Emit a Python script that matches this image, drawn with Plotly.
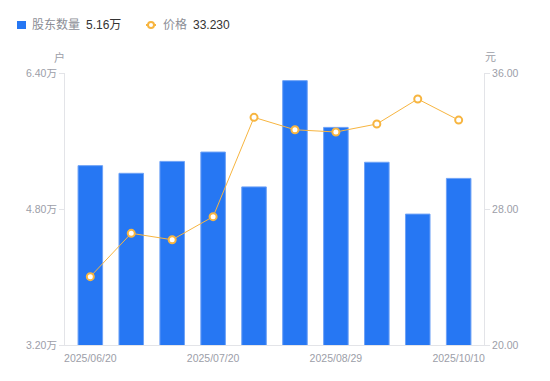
import plotly.graph_objects as go

dates = ["2025/06/20", "2025/06/30", "2025/07/10", "2025/07/20", "2025/07/31",
         "2025/08/15", "2025/08/29", "2025/09/12", "2025/09/26", "2025/10/10"]
holders = [5.31, 5.22, 5.36, 5.47, 5.06, 6.31, 5.76, 5.35, 4.74, 5.16]  # 万户
price = [24.02, 26.57, 26.19, 27.55, 33.39, 32.66, 32.53, 33.00, 34.47, 33.23]  # 元
shown_ticks = ["2025/06/20", "2025/07/20", "2025/08/29", "2025/10/10"]
left_ticks = [3.2, 4.8, 6.4]
right_ticks = [20, 28, 36]

BLUE = "#2677F3"
ORANGE = "#F7B540"
GRAY = "#9c9ea8"
AXIS = "#e3e4e8"
FONT = "Liberation Sans, Noto Sans CJK SC, sans-serif"

OFF = 8  # page body margin
W, H = 550 - OFF, 381 - OFF
# target plot area in page pixels: x 65..484, y 73..345
L, T = 65 - OFF, 73 - OFF
R = W - (484 - OFF)
B = H - (345 - OFF)

pw, ph = W - L - R, H - T - B
def px(x):  # page pixel -> paper
    return (x - OFF - L) / pw
def py(y):
    return (H - B - (y - OFF)) / ph

fig = go.Figure()
fig.add_trace(go.Bar(
    x=dates, y=holders, name="股东数量",
    marker=dict(color=BLUE, line=dict(color="#6ea2f6", width=1)),
    yaxis="y",
))
fig.add_trace(go.Scatter(
    x=dates, y=price, name="价格", mode="lines+markers",
    line=dict(color=ORANGE, width=1),
    marker=dict(symbol="circle", size=7, color="white", line=dict(color=ORANGE, width=2)),
    yaxis="y2",
))

shapes = [
    dict(type="rect", xref="paper", yref="paper", x0=px(17), x1=px(26), y0=py(29), y1=py(21),
         fillcolor=BLUE, line=dict(width=0)),
    dict(type="line", xref="paper", yref="paper", x0=px(146), x1=px(156), y0=py(25), y1=py(25),
         line=dict(color=ORANGE, width=2)),
    dict(type="circle", xref="paper", yref="paper", x0=px(148), x1=px(154), y0=py(28), y1=py(22),
         fillcolor="white", line=dict(color=ORANGE, width=2)),
]

def ann(text, x, y, color, size=12, anchor="left"):
    return dict(text=text, x=px(x), y=py(y), xref="paper", yref="paper", xanchor=anchor,
                yanchor="middle", showarrow=False, font=dict(size=size, color=color, family=FONT))

annotations = [
    ann("股东数量", 30, 25, "#8c8e96"),
    ann(f"{holders[-1]:.2f}万", 84, 25, "#333333"),
    ann("价格", 161, 25, "#8c8e96"),
    ann(f"{price[-1]:.3f}", 191, 25, "#333333"),
    ann("户", 59, 57, GRAY, 11, "center"),
    ann("元", 490, 57, GRAY, 11, "center"),
]

fig.update_layout(
    width=W, height=H,
    margin=dict(l=L, r=R, t=T, b=B),
    paper_bgcolor="white", plot_bgcolor="white",
    showlegend=False,
    bargap=0.4,
    font=dict(family=FONT, size=10, color=GRAY),
    xaxis=dict(
        type="category", tickmode="array", tickvals=shown_ticks, ticktext=shown_ticks,
        showgrid=False, showline=True, linecolor=AXIS, linewidth=1,
        ticks="", tickfont=dict(size=10.5, color=GRAY), zeroline=False,
        ticklabelstandoff=3,
    ),
    yaxis=dict(
        range=[3.2, 6.4], tickmode="array", tickvals=left_ticks,
        ticktext=[f"{v:.2f}万" for v in left_ticks],
        showgrid=False, showline=True, linecolor=AXIS, linewidth=1,
        ticks="outside", ticklen=5, tickcolor=AXIS, tickfont=dict(size=10.5, color=GRAY),
        zeroline=False,
    ),
    yaxis2=dict(
        range=[20, 36], tickmode="array", tickvals=right_ticks,
        ticktext=[f"{v:.2f}" for v in right_ticks],
        overlaying="y", side="right",
        showgrid=False, showline=True, linecolor=AXIS, linewidth=1,
        ticks="outside", ticklen=5, tickcolor=AXIS, tickfont=dict(size=10.5, color=GRAY),
        zeroline=False,
    ),
    shapes=shapes,
    annotations=annotations,
)

fig.write_html("out.html")
